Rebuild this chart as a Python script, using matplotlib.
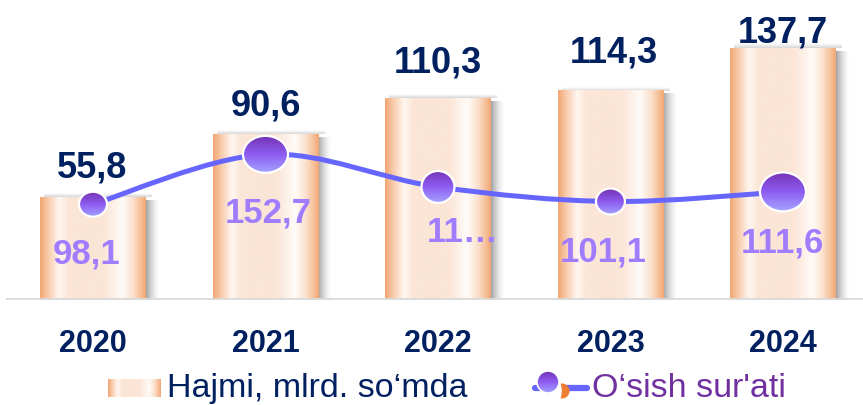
import numpy as np
import matplotlib
matplotlib.use('Agg')
import matplotlib.pyplot as plt
from matplotlib.path import Path
from matplotlib.patches import PathPatch, Ellipse, Circle, Wedge
from matplotlib.colors import LinearSegmentedColormap

# ---------------- data ----------------
years = ['2020', '2021', '2022', '2023', '2024']
volume = [55.8, 90.6, 110.3, 114.3, 137.7]
growth = [98.1, 152.7, 117.0, 101.1, 111.6]
volume_labels = ['55,8', '90,6', '110,3', '114,3', '137,7']
growth_labels = ['98,1', '152,7', '11…', '101,1', '111,6']
legend_labels = ['Hajmi, mlrd. so‘mda', "O‘sish sur'ati"]

# ---------------- style ----------------
plt.rcParams['font.family'] = ['Liberation Sans', 'DejaVu Sans']
NAVY = '#002060'
LINE = '#6666FF'
LBL = '#A07CFF'
LEG2 = '#7030A0'
marker_px = [(28, 25), (45, 37), (33, 32), (29, 26), (46, 39)]
vol_off_px = [(-0.5, 21), (0, 20), (0, 27), (3, 29), (0, 7)]
gr_off_px = [(-6, -58), (3, -67), (25, -54), (-7, -59), (-1, -60)]

bar_cmap = LinearSegmentedColormap.from_list('bar', [
    (0.00, '#F2A672'), (0.08, '#F8CDAE'), (0.18, '#FFF6F0'), (0.27, '#FBE5D6'),
    (0.60, '#FBE5D6'), (0.78, '#FFFBF8'), (0.88, '#FBE0CC'), (0.96, '#F6BC93'),
    (1.00, '#F2A672')])
mk_cmap = LinearSegmentedColormap.from_list('mk', ['#A4A4FF', '#8E5CF2', '#7434B4'])

W, H = 863, 406
fig = plt.figure(figsize=(W / 100, H / 100), dpi=100)
left_px, base_px = 6.75, 300
ax = fig.add_axes([left_px / W, 1 - base_px / H, 1 - left_px / W, base_px / H])
ax2 = ax.twinx()
XLIM = (-0.5, 4.464)
Y1 = (0, 164.8)
Y2 = (-5.57, 322.66)

def fix_limits():
    ax.set_xlim(*XLIM); ax.set_ylim(*Y1)
    ax2.set_xlim(*XLIM); ax2.set_ylim(*Y2)

fix_limits()
px_x = (W - left_px) / (XLIM[1] - XLIM[0])
px_y1 = base_px / (Y1[1] - Y1[0])
px_y2 = base_px / (Y2[1] - Y2[0])

x = np.arange(len(years))
bars = ax.bar(x, volume, width=0.614, color='none', zorder=2)

grad = np.linspace(0, 1, 256).reshape(1, -1)
for rect in bars:
    x0, w, h = rect.get_x(), rect.get_width(), rect.get_height()
    # right-side shadow
    sw = 14 / px_x
    sh = np.zeros((1, 64, 4))
    sh[..., :3] = 0.42
    sh[..., 3] = np.linspace(0.8, 0.0, 64) ** 1.6
    ax.imshow(sh, extent=[x0 + w - 1 / px_x, x0 + w + sw, 0, h - 3 / px_y1],
              aspect='auto', zorder=1.5, interpolation='bilinear')
    # top shadow
    th = np.zeros((16, 1, 4))
    th[..., :3] = 0.55
    th[..., 3] = np.linspace(0.0, 0.35, 16).reshape(-1, 1)
    ax.imshow(th, extent=[x0 + 4 / px_x, x0 + w + 6 / px_x, h, h + 4 / px_y1],
              aspect='auto', zorder=1.5, interpolation='bilinear')
    ax.imshow(grad, cmap=bar_cmap, extent=[x0, x0 + w, 0, h], aspect='auto',
              zorder=2, interpolation='bilinear')

# smooth line (Catmull-Rom -> cubic Bezier through the data points)
P = np.column_stack([x, growth]).astype(float)
Pe = np.vstack([P[0], P, P[-1]])
verts = [tuple(P[0])]
codes = [Path.MOVETO]
for i in range(len(P) - 1):
    p0, p1, p2, p3 = Pe[i], Pe[i + 1], Pe[i + 2], Pe[i + 3]
    c1 = p1 + (p2 - p0) / 6
    c2 = p2 - (p3 - p1) / 6
    verts += [tuple(c1), tuple(c2), tuple(p2)]
    codes += [Path.CURVE4] * 3
ax2.add_patch(PathPatch(Path(verts, codes), fill=False, edgecolor=LINE, lw=3.6,
                        capstyle='round', joinstyle='round', zorder=3))

vgrad = np.linspace(0, 1, 128).reshape(-1, 1)
for i, (v, (mw, mh)) in enumerate(zip(growth, marker_px)):
    ew, eh = mw / px_x, mh / px_y2
    el = Ellipse((x[i], v), ew, eh, facecolor='none', edgecolor='none',
                 transform=ax2.transData)
    ax2.add_patch(el)
    im = ax2.imshow(vgrad, cmap=mk_cmap, origin='lower',
                    extent=[x[i] - ew / 2, x[i] + ew / 2, v - eh / 2, v + eh / 2],
                    aspect='auto', zorder=4, interpolation='bilinear')
    im.set_clip_path(el)
    ax2.add_patch(Ellipse((x[i], v), ew, eh, facecolor='none', edgecolor='white',
                          lw=1.6, zorder=4.5))

for i, (v, t) in enumerate(zip(volume, volume_labels)):
    dx, dy = vol_off_px[i]
    ax.annotate(t, xy=(x[i], v), xytext=(dx * 0.72, dy * 0.72),
                textcoords='offset points', ha='center', va='baseline',
                fontsize=26, fontweight='bold', color=NAVY, zorder=6,
                annotation_clip=False)

for i, (v, t) in enumerate(zip(growth, growth_labels)):
    dx, dy = gr_off_px[i]
    ax2.annotate(t, xy=(x[i], v), xytext=(dx * 0.72, dy * 0.72),
                 textcoords='offset points', ha='center', va='baseline',
                 fontsize=25, fontweight='bold', color=LBL, zorder=6,
                 annotation_clip=False)

ax.set_xticks(x, years)
ax.tick_params(axis='x', length=0, pad=21, labelsize=22, labelcolor=NAVY)
for lab in ax.get_xticklabels():
    lab.set_fontweight('bold')
ax.set_yticks([])
ax2.set_yticks([])
for a in (ax, ax2):
    for s in ('top', 'left', 'right'):
        a.spines[s].set_visible(False)
    a.patch.set_visible(False)
ax2.spines['bottom'].set_visible(False)
ax.spines['bottom'].set_color('#D9D9D9')
ax.spines['bottom'].set_linewidth(1.3)
fix_limits()

# ---------------- legend ----------------
lax = fig.add_axes([108 / W, 1 - 398 / H, 52 / W, 18 / H])
lax.imshow(grad, cmap=bar_cmap, aspect='auto', interpolation='bilinear')
lax.axis('off')
fig.text(167 / W, 1 - 389 / H, legend_labels[0], ha='left', va='center',
         fontsize=24.5, color=NAVY)

iax = fig.add_axes([528 / W, 1 - 402 / H, 66 / W, 32 / H])
iax.axis('off')
iax.plot([7, 18], [13, 13], color=LINE, lw=4.5, solid_capstyle='round')
iax.plot([38, 59], [13, 13], color=LINE, lw=4.5, solid_capstyle='round')
iax.add_patch(Wedge((34, 10), 7.5, 260, 100, facecolor='#ED7D31', edgecolor='none', zorder=2))
c = Circle((20, 19), 11, facecolor='none', edgecolor='none')
iax.add_patch(c)
im = iax.imshow(vgrad, cmap=mk_cmap, origin='lower', extent=[9, 31, 8, 30],
                aspect='auto', interpolation='bilinear', zorder=3)
im.set_clip_path(c)
iax.add_patch(Circle((20, 19), 11, facecolor='none', edgecolor='white', lw=1.2, zorder=4))
iax.set_xlim(0, 66); iax.set_ylim(0, 32)
fig.text(592 / W, 1 - 389 / H, legend_labels[1], ha='left', va='center',
         fontsize=24.5, color=LEG2)

fig.savefig('out.png', dpi=100)
